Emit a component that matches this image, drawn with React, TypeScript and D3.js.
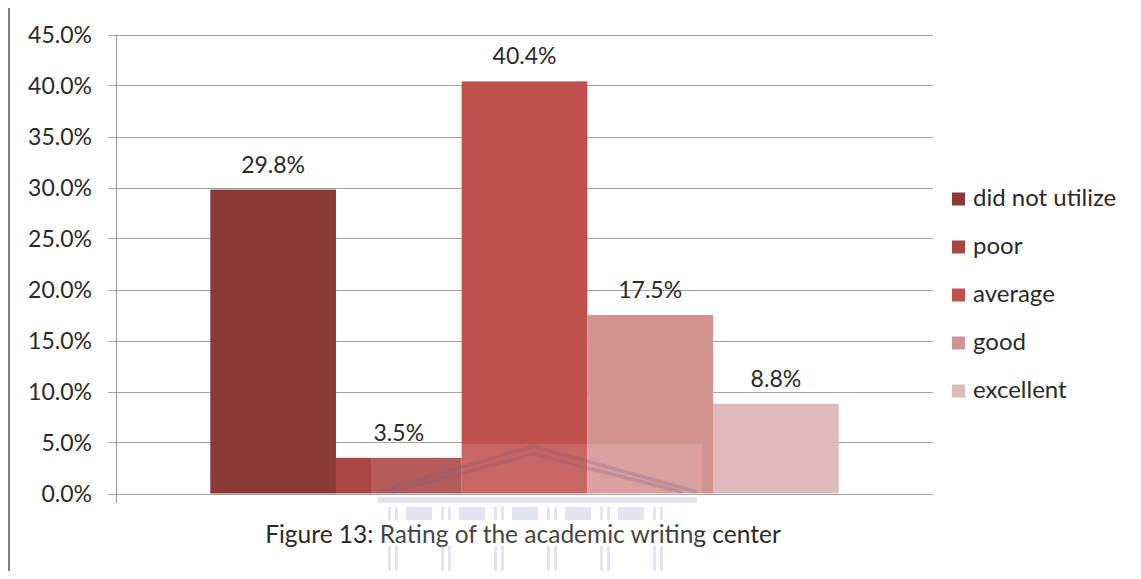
import React from "react";
import * as d3 from "d3";

const seriesNames = ["did not utilize", "poor", "average", "good", "excellent"];
const seriesValues = [0.298, 0.035, 0.404, 0.175, 0.088];
const seriesColors = ["#8C3A37", "#A94542", "#C0504D", "#D39391", "#E0BABA"];
const yTicks = [0, 0.05, 0.1, 0.15, 0.2, 0.25, 0.3, 0.35, 0.4, 0.45];
const title = "Figure 13: Rating of the academic writing center";

const W = 1141;
const H = 579;
const FONT = "Lato, 'Open Sans', sans-serif";

export default function App() {
  const x = d3
    .scaleBand<string>()
    .domain(seriesNames)
    .range([116, 933])
    .paddingInner(0)
    .paddingOuter(0.75);
  const y = d3.scaleLinear().domain([0, 0.45]).range([493.5, 34.5]);
  const fmt = d3.format(".1%");

  // watermark column pattern (decoration)
  const capItems: { x: number; w: number }[] = [];
  let cx = 388;
  for (let i = 0; i < 6; i++) {
    capItems.push({ x: cx, w: 3 });
    capItems.push({ x: cx + 7, w: 3 });
    if (i < 5) capItems.push({ x: cx + 18, w: 26 });
    cx += 53;
  }

  return (
    <div style={{ margin: -8 }}>
      <svg width={W} height={H} style={{ display: "block", background: "#fff" }}>
        {/* outer border */}
        <path d={`M9,${H + 5} L9,7 L${W + 5},7`} fill="none" stroke="#808080" strokeWidth={2} />

        {/* gridlines */}
        {yTicks.map((t) => (
          <line
            key={"g" + t}
            x1={108}
            x2={933}
            y1={Math.round(y(t)) + 0.5}
            y2={Math.round(y(t)) + 0.5}
            stroke="#a6a6a6"
            strokeWidth={1.2}
          />
        ))}
        {/* y axis line */}
        <line x1={116.5} x2={116.5} y1={y(0.45)} y2={503} stroke="#a0a0a0" strokeWidth={1.2} />

        {/* bars */}
        {seriesNames.map((s, i) => (
          <rect
            key={s}
            x={x(s)!}
            width={x.bandwidth()}
            y={y(seriesValues[i])}
            height={y(0) - y(seriesValues[i])}
            fill={seriesColors[i]}
          />
        ))}

        {/* y tick labels */}
        {yTicks.map((t) => (
          <text
            key={"t" + t}
            x={92}
            y={y(t) + 8}
            textAnchor="end"
            fontFamily={FONT}
            fontSize={23}
            fill="#2a2a2a"
          >
            {fmt(t)}
          </text>
        ))}

        {/* data labels */}
        {seriesNames.map((s, i) => (
          <text
            key={"l" + s}
            x={x(s)! + x.bandwidth() / 2}
            y={y(seriesValues[i]) - 17}
            textAnchor="middle"
            fontFamily={FONT}
            fontSize={23}
            fill="#2a2a2a"
          >
            {fmt(seriesValues[i])}
          </text>
        ))}

        {/* legend */}
        {seriesNames.map((s, i) => (
          <g key={"lg" + s} transform={`translate(952, ${199 + i * 48})`}>
            <rect x={0} y={-6.5} width={13} height={13} fill={seriesColors[i]} />
            <text x={21} y={7} fontFamily={FONT} fontSize={24} fill="#2a2a2a">
              {s}
            </text>
          </g>
        ))}

        {/* title */}
        <text x={523} y={543} textAnchor="middle" fontFamily={FONT} fontSize={24.5} fill="#2a2a2a">
          {title}
        </text>

        {/* faint watermark overlay */}
        <g opacity={0.5}>
          <rect x={371} y={444} width={331} height={H - 444} fill="#ffffff" opacity={0.25} />
          <path d="M377,492 L533,446 L697,492" fill="none" stroke="#8a6f95" strokeWidth={3.5} opacity={0.6} />
          <path d="M392,492 L533,454 L682,492" fill="none" stroke="#8a6f95" strokeWidth={3.5} opacity={0.6} />
          <rect x={378} y={497} width={319} height={6} fill="#c6cde2" />
          {capItems.map((c, i) => (
            <rect key={"c" + i} x={c.x} y={507} width={c.w} height={13} fill="#c6cde2" />
          ))}
          {capItems
            .filter((c) => c.w === 3)
            .map((c, i) => (
              <rect key={"s" + i} x={c.x} y={546} width={c.w} height={H - 546} fill="#c6cde2" />
            ))}
        </g>
      </svg>
    </div>
  );
}
